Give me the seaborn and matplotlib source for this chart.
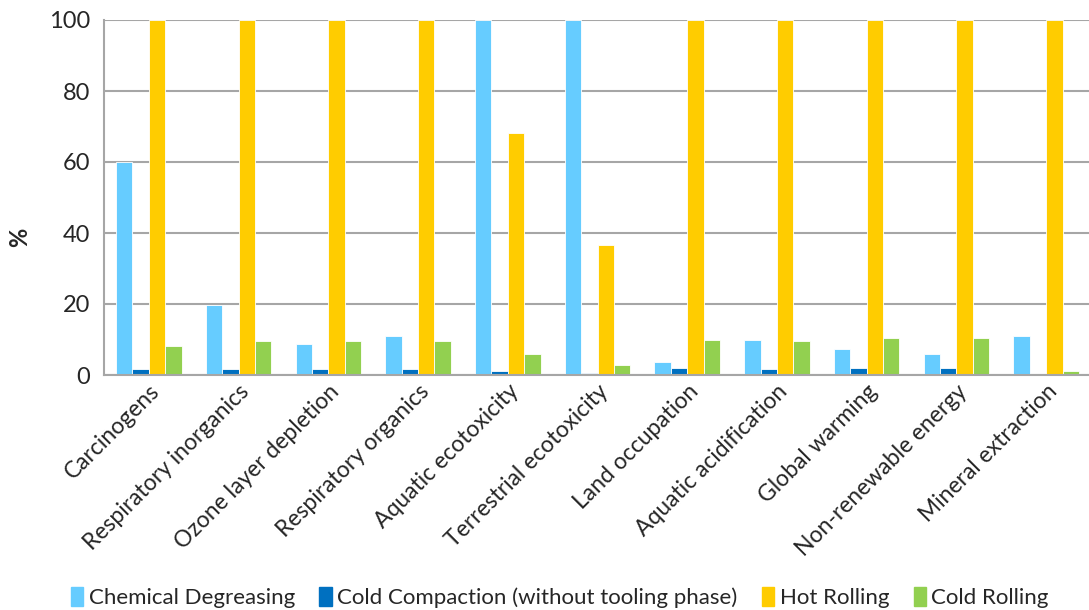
import matplotlib
matplotlib.use("Agg")
import matplotlib.pyplot as plt
import seaborn as sns
import pandas as pd

categories = [
    "Carcinogens", "Respiratory inorganics", "Ozone layer depletion",
    "Respiratory organics", "Aquatic ecotoxicity", "Terrestrial ecotoxicity",
    "Land occupation", "Aquatic acidification", "Global warming",
    "Non-renewable energy", "Mineral extraction",
]
series_names = [
    "Chemical Degreasing",
    "Cold Compaction (without tooling phase)",
    "Hot Rolling",
    "Cold Rolling",
]
chemical_degreasing = [60.0, 19.6, 8.6, 11.1, 100.0, 100.0, 3.7, 9.9, 7.2, 5.9, 11.0]
cold_compaction = [1.6, 1.8, 1.8, 1.8, 1.1, 0.5, 2.0, 1.8, 2.0, 2.0, 0.2]
hot_rolling = [100.0, 100.0, 100.0, 100.0, 68.3, 36.7, 100.0, 100.0, 100.0, 100.0, 100.0]
cold_rolling = [8.2, 9.5, 9.6, 9.7, 5.8, 2.8, 9.9, 9.6, 10.4, 10.4, 1.2]
colors = ["#66CCFF", "#0070C0", "#FFCC00", "#92D050"]
y_ticks = [0, 20, 40, 60, 80, 100]

rows = []
for name, vals in zip(series_names, [chemical_degreasing, cold_compaction, hot_rolling, cold_rolling]):
    for cat, v in zip(categories, vals):
        rows.append({"Category": cat, "Process": name, "Value": v})
df = pd.DataFrame(rows)

sns.set_style("white")
plt.rcParams["font.family"] = ["Lato", "DejaVu Sans"]

fig = plt.figure(figsize=(10.89, 6.10), dpi=100)
ax = fig.add_axes([104 / 1089, (610 - 375) / 610, (1091 - 104) / 1089, 355 / 610])

sns.barplot(
    data=df, x="Category", y="Value", hue="Process",
    order=categories, hue_order=series_names, palette=colors,
    width=0.73, gap=0, saturation=1, errorbar=None,
    edgecolor="white", linewidth=0.6, ax=ax,
)

ax.set_xlim(-0.5, len(categories) - 0.5)
ax.set_ylim(0, 100)
ax.set_yticks(y_ticks)
ax.set_yticklabels([str(t) for t in y_ticks], fontsize=17)
ax.yaxis.grid(True, color="#a6a6a6", linewidth=1.5)
ax.set_axisbelow(True)
ax.tick_params(axis="both", length=0)
ax.tick_params(axis="y", pad=10)
ax.set_xticks(range(len(categories)))
ax.set_xticklabels(categories, rotation=45, ha="right", rotation_mode="anchor", fontsize=16.5)
ax.tick_params(axis="x", pad=4)

for side in ["top", "right"]:
    ax.spines[side].set_visible(False)
for side in ["left", "bottom"]:
    ax.spines[side].set_color("#a6a6a6")
    ax.spines[side].set_linewidth(1.5)

ax.set_xlabel("")
ax.set_ylabel("")
fig.text(20 / 1089, 1 - 237 / 610, "%", rotation=90, fontsize=17, fontweight="bold",
         ha="center", va="center")

ax.legend_.remove()
handles = [plt.Rectangle((0, 0), 1, 1, color=c) for c in colors]
fig.legend(
    handles, series_names, loc="center", bbox_to_anchor=(0.514, 0.02),
    ncol=4, frameon=False, fontsize=16, handlelength=0.55, handleheight=0.9,
    handletextpad=0.25, columnspacing=1.1,
)

fig.savefig("out.png", dpi=100)
